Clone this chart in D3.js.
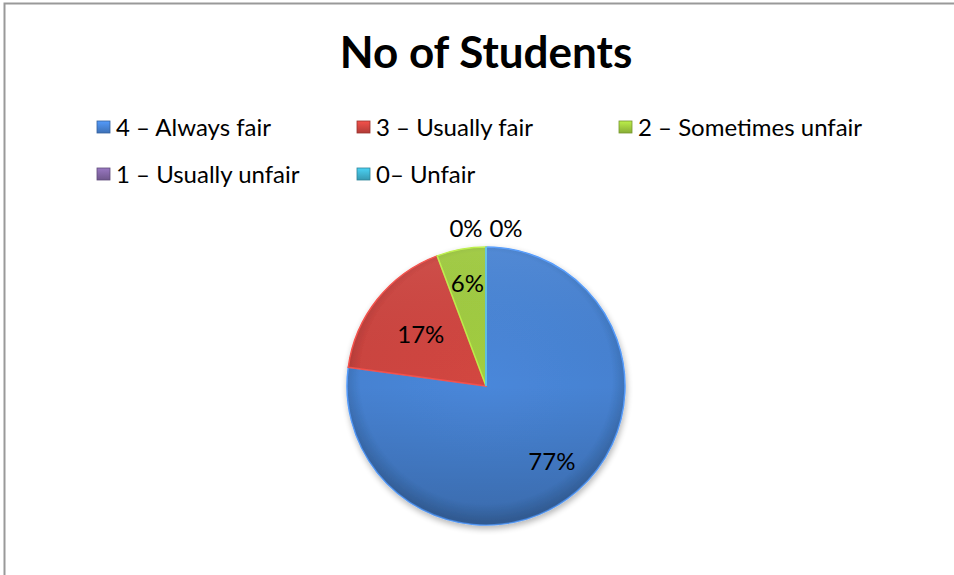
<!DOCTYPE html>
<html>
<head>
<meta charset="utf-8">
<script src="https://cdn.jsdelivr.net/npm/d3@7"></script>
<style>
  body { margin: 0; background: #fff; }
  svg { display: block; font-family: Lato, "Open Sans", sans-serif; }
</style>
</head>
<body>
<div class="chart"></div>
<script>
// data
var categories = ["4 \u2013 Always fair", "3 \u2013 Usually fair", "2 \u2013 Sometimes unfair", "1 \u2013 Usually unfair", "0\u2013 Unfair"];
var students = [27, 6, 2, 0, 0];
var colors = ["#4682D2", "#CC443F", "#9DC83E", "#8064A2", "#3FB0CC"];

var W = 954, H = 575;
var cx = 486, cy = 386, radius = 139;

var svg = d3.select(".chart").append("svg")
    .attr("width", W)
    .attr("height", H);

// chart frame
svg.append("rect")
    .attr("x", 4.5).attr("y", 3.5)
    .attr("width", W + 10).attr("height", H + 10)
    .style("fill", "#fff")
    .style("stroke", "#999")
    .style("stroke-width", 2);

var defs = svg.append("defs");

// bevel-ish shading for slices (coords relative to pie centre)
colors.forEach(function(c, i) {
  var g = defs.append("radialGradient")
      .attr("id", "grad" + i)
      .attr("gradientUnits", "userSpaceOnUse")
      .attr("cx", 0).attr("cy", -8).attr("r", radius * 1.03);
  g.append("stop").attr("offset", "0%").attr("stop-color", d3.color(c).brighter(0.1));
  g.append("stop").attr("offset", "88%").attr("stop-color", c);
  g.append("stop").attr("offset", "100%").attr("stop-color", d3.color(c).darker(0.5));
});

// darker toward the bottom, like the original's lighting
var shade = defs.append("linearGradient")
    .attr("id", "shade")
    .attr("x1", 0).attr("y1", 0).attr("x2", 0).attr("y2", 1);
shade.append("stop").attr("offset", "0%").attr("stop-color", "#fff").attr("stop-opacity", 0.06);
shade.append("stop").attr("offset", "50%").attr("stop-color", "#000").attr("stop-opacity", 0);
shade.append("stop").attr("offset", "100%").attr("stop-color", "#000").attr("stop-opacity", 0.18);

colors.forEach(function(c, i) {
  var l = defs.append("linearGradient")
      .attr("id", "lg" + i)
      .attr("x1", 0).attr("y1", 0).attr("x2", 0).attr("y2", 1);
  l.append("stop").attr("offset", "0%").attr("stop-color", d3.color(c).brighter(0.5));
  l.append("stop").attr("offset", "100%").attr("stop-color", d3.color(c).darker(0.4));
});

var shadow = defs.append("filter").attr("id", "shadow")
    .attr("x", "-20%").attr("y", "-20%").attr("width", "140%").attr("height", "140%");
shadow.append("feGaussianBlur").attr("in", "SourceAlpha").attr("stdDeviation", 3);
shadow.append("feOffset").attr("dx", 1).attr("dy", 3).attr("result", "off");
shadow.append("feComponentTransfer").append("feFuncA").attr("type", "linear").attr("slope", 0.3);
var merge = shadow.append("feMerge");
merge.append("feMergeNode");
merge.append("feMergeNode").attr("in", "SourceGraphic");

// title
svg.append("text")
    .attr("x", cx)
    .attr("y", 68)
    .attr("text-anchor", "middle")
    .style("font-size", "44px")
    .style("font-weight", "bold")
    .text("No of Students");

// legend
var legendX = [97, 357, 619, 97, 357];
var legendY = [127, 127, 127, 174, 174];

var legend = svg.selectAll(".legend")
    .data(categories)
  .enter().append("g")
    .attr("class", "legend")
    .attr("transform", function(d, i) { return "translate(" + legendX[i] + "," + legendY[i] + ")"; });

legend.append("rect")
    .attr("x", 0).attr("y", -6)
    .attr("width", 13).attr("height", 12)
    .style("fill", function(d, i) { return "url(#lg" + i + ")"; })
    .style("stroke", function(d, i) { return d3.color(colors[i]).darker(0.8); })
    .style("stroke-width", 0.8);

legend.append("text")
    .attr("x", 19)
    .attr("y", 0)
    .attr("dy", "0.36em")
    .style("font-size", "24px")
    .text(function(d) { return d; });

// pie
var pie = d3.pie().sort(null);
var arcs = pie(students);
var total = d3.sum(students);

var arc = d3.arc().innerRadius(0).outerRadius(radius);

var pieG = svg.append("g")
    .attr("transform", "translate(" + cx + "," + cy + ")");

var g = pieG.append("g")
    .attr("filter", "url(#shadow)");

g.selectAll(".slice")
    .data(arcs)
  .enter().append("path")
    .attr("class", "slice")
    .attr("d", arc)
    .style("fill", function(d, i) { return "url(#grad" + i + ")"; })
    .style("stroke", function(d, i) { return d3.color(colors[i]).brighter(0.5); })
    .style("stroke-width", 1.5);

pieG.append("circle")
    .attr("r", radius)
    .style("fill", "url(#shade)")
    .style("pointer-events", "none");

// labels: inside for big slices, outside above for empty ones
var labelArc = d3.arc().innerRadius(radius * 0.6).outerRadius(radius * 0.6);
var outerOffsets = [-20, 20];

pieG.selectAll(".lbl")
    .data(arcs)
  .enter().append("text")
    .attr("class", "lbl")
    .attr("text-anchor", "middle")
    .attr("dy", "0.36em")
    .style("font-size", "24px")
    .attr("transform", function(d, i) {
      if (d.value === 0) {
        return "translate(" + outerOffsets[i - 3] + "," + (-radius - 19) + ")";
      }
      var p = labelArc.centroid(d);
      if (i === 0) p = d3.arc().innerRadius(radius * 0.72).outerRadius(radius * 0.72).centroid(d);
      if (i === 2) p = d3.arc().innerRadius(radius * 0.75).outerRadius(radius * 0.75).centroid(d);
      return "translate(" + p + ")";
    })
    .text(function(d) { return Math.round(d.value / total * 100) + "%"; });
</script>
</body>
</html>
